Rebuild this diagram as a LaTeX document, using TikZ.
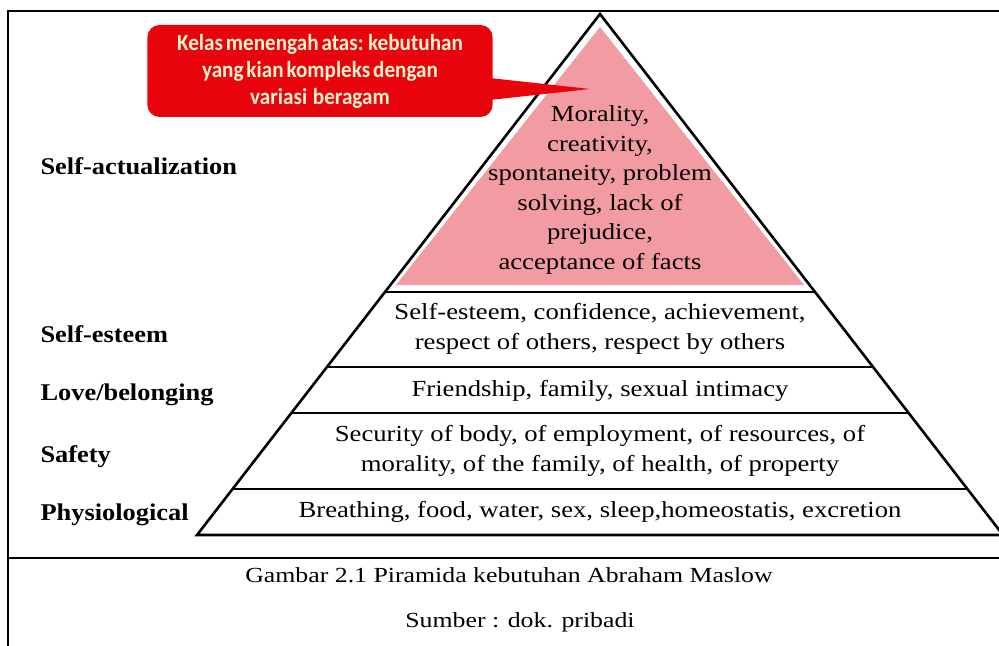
\documentclass[tikz,border=0pt]{standalone}
\usepackage{fontspec}
\setmainfont{Liberation Serif}
\newfontfamily\needfont[FakeStretch=1.16]{Liberation Serif}
\newfontfamily\levelfont[FakeStretch=1.1]{Liberation Serif}
\newfontfamily\capfont[FakeStretch=1.2]{Liberation Serif}
\newfontfamily\calloutfont[FakeStretch=0.92, WordSpace=0.6]{Carlito}
\definecolor{pinkfill}{RGB}{242,155,162}
\definecolor{calloutred}{RGB}{232,4,12}
\definecolor{callouttext}{RGB}{255,242,205}

\begin{document}
\begin{tikzpicture}[x=1bp, y=-1bp,
    level/.style={font=\levelfont\fontsize{24bp}{29bp}\selectfont\bfseries, anchor=base west},
    need/.style={font=\needfont\fontsize{23bp}{29.5bp}\selectfont, align=center},
    capline/.style={font=\capfont\fontsize{21.5bp}{25bp}\selectfont, anchor=base},
    frameline/.style={line width=2bp},
    bandline/.style={line width=2.6bp}]
    \useasboundingbox (0,0) rectangle (999,646);

    % 枠線
    \draw[frameline] (8,646) -- (8,11) -- (999,11);
    \draw[frameline] (8,558) -- (999,558);

    % ピラミッド
    \coordinate (apex) at (600,14);
    \coordinate (bl) at (197,535);
    \coordinate (br) at (1003,535);
    \fill[pinkfill] (600,27) -- (396,285) -- (804,285) -- cycle;
    \draw[bandline, line join=miter] (bl) -- (apex) -- (br) -- cycle;
    \foreach \y in {292,367,413,489}
        \draw[bandline] ({600-0.7735*(\y-14)},\y) -- ({600+0.7735*(\y-14)},\y);

    % 左側のラベル
    \node[level] (selfact) at (37,175) {Self-actualization};
    \node[level] (esteem) at (37,342) {Self-esteem};
    \node[level] (love) at (37,400) {Love/belonging};
    \node[level] (safety) at (37,462) {Safety};
    \node[level] (physio) at (37,520) {Physiological};

    % 各段のテキスト
    \node[need] (top) at (600,190) {Morality,\\creativity,\\spontaneity, problem\\solving, lack of\\prejudice,\\acceptance of facts};
    \node[need] (estext) at (600,329) {Self-esteem, confidence, achievement,\\respect of others, respect by others};
    \node[need] (lovetext) at (600,391) {Friendship, family, sexual intimacy};
    \node[need] (safetext) at (600,451) {Security of body, of employment, of resources, of\\morality, of the family, of health, of property};
    \node[need] (phystext) at (600,512) {Breathing, food, water, sex, sleep,homeostatis, excretion};

    % 吹き出し
    \node[fill=calloutred, rounded corners=12bp, minimum width=345bp, minimum height=92bp,
        text=callouttext, align=center, font=\calloutfont\bfseries\fontsize{23bp}{27bp}\selectfont]
        (note) at (320,71) {Kelas menengah atas: kebutuhan\\yang kian kompleks dengan\\variasi\ \ beragam};
    \coordinate (tip) at (590,89);
    \fill[calloutred] ([yshift=-7bp, xshift=-3bp]note.east) -- (tip) -- ([yshift=-29bp, xshift=-3bp]note.east) -- cycle;

    % キャプション
    \node[capline] (cap) at (509,582) {Gambar 2.1 Piramida kebutuhan Abraham Maslow};
    \node[capline] (src) at (520,627) {Sumber : dok. pribadi};
\end{tikzpicture}
\end{document}
